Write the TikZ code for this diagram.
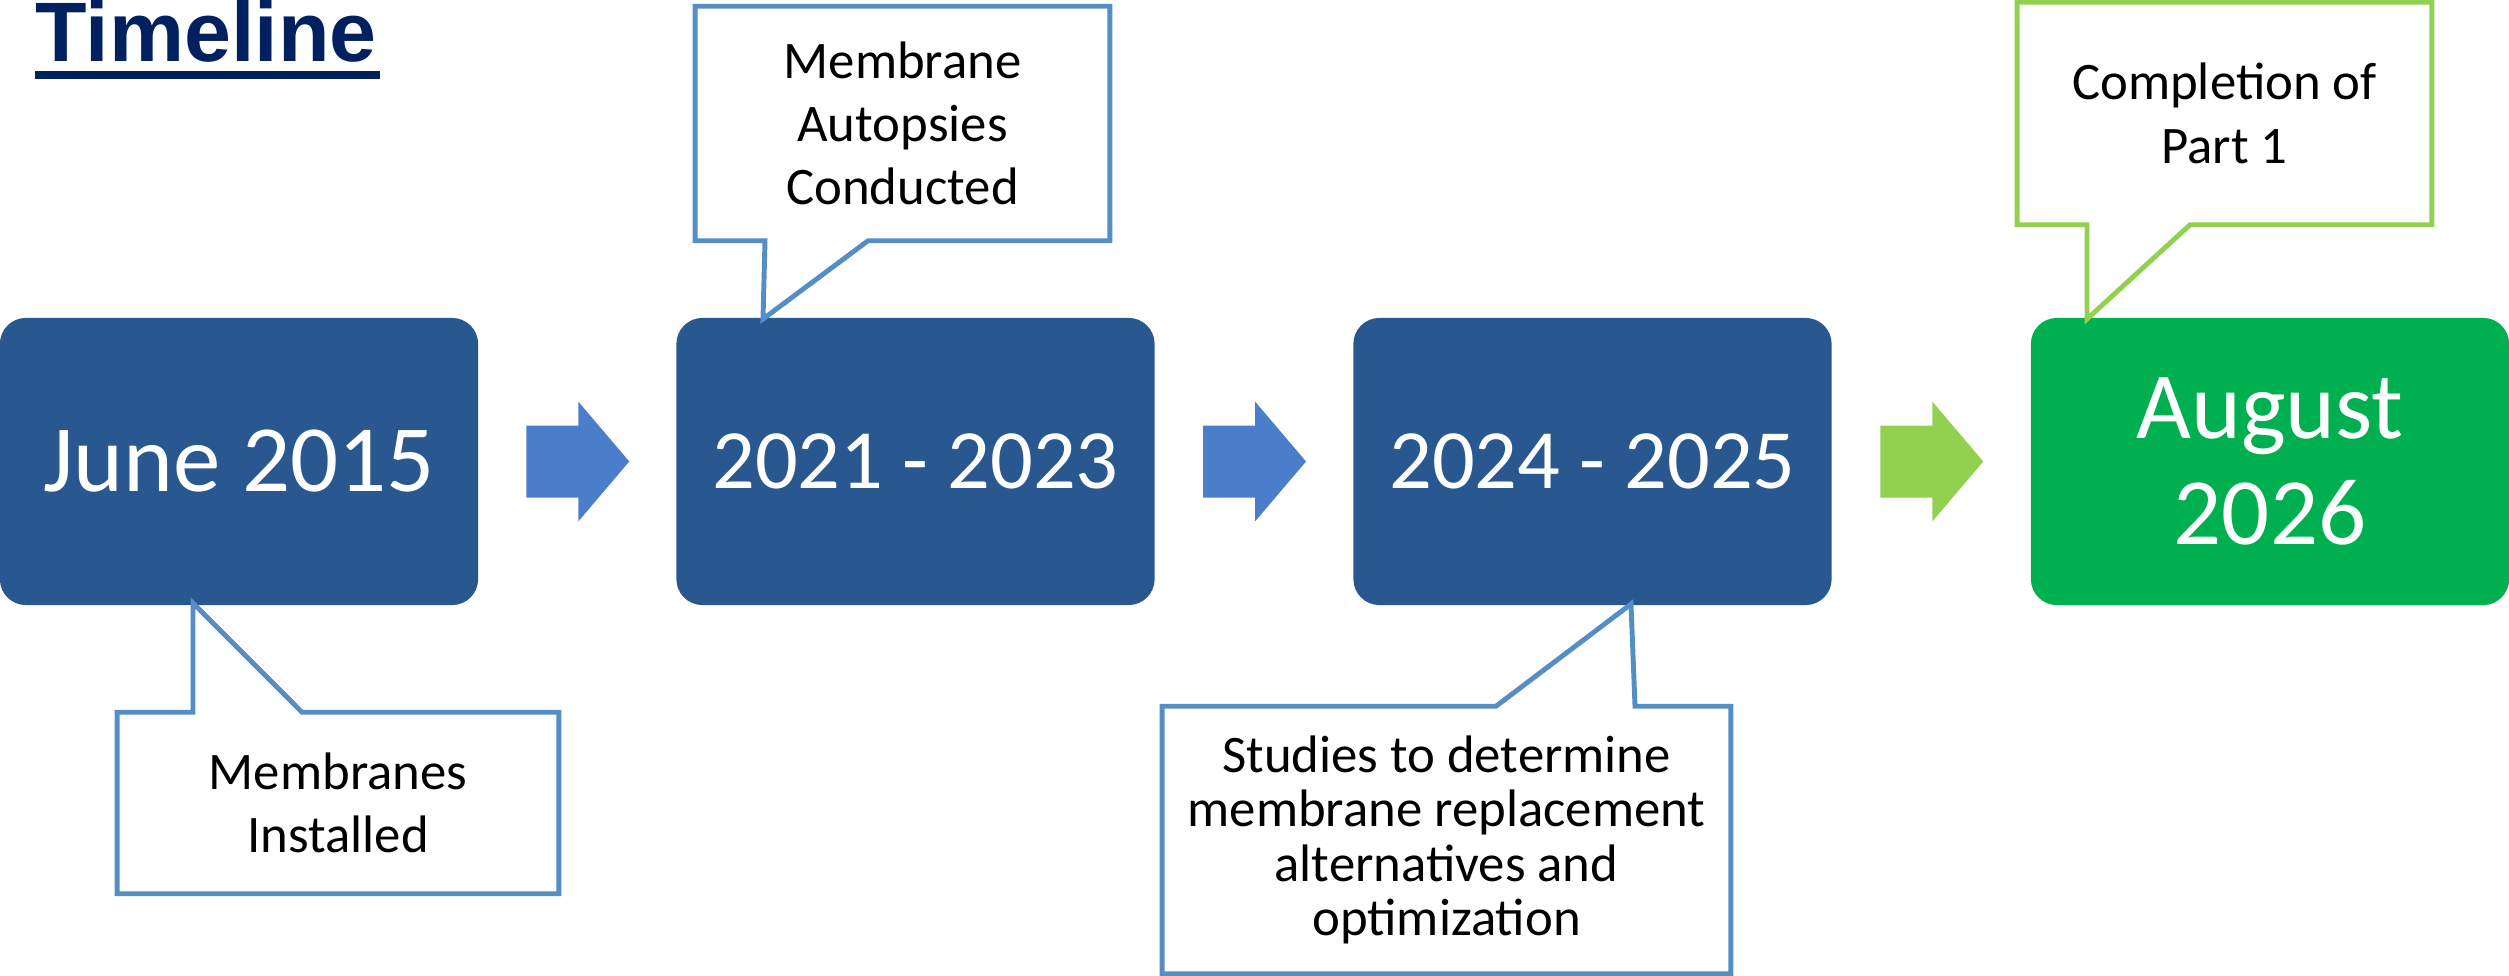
\documentclass[tikz,border=0pt]{standalone}
\usepackage{fontspec}
\setmainfont{Carlito}
\newfontfamily\titlefont{Liberation Sans}
\usetikzlibrary{calc}

\definecolor{boxblue}{RGB}{41,87,144}
\definecolor{boxgreen}{RGB}{0,176,80}
\definecolor{arrowblue}{RGB}{74,126,203}
\definecolor{arrowgreen}{RGB}{146,208,80}
\definecolor{noteblue}{RGB}{85,142,196}
\definecolor{titleblue}{RGB}{0,32,96}

\begin{document}
\begin{tikzpicture}[x=0.01cm, y=-0.01cm,
    stage/.style={fill=boxblue, text=white, rounded corners=0.26cm, minimum width=4.78cm, minimum height=2.87cm, align=center, inner sep=0pt},
    note/.style={draw=noteblue, line width=1.4pt, line join=miter},
    notetext/.style={align=center, inner sep=0pt, font=\fontsize{15}{18}\selectfont}]
                \useasboundingbox (0,0) rectangle (2509,976);

                % Title
                \node[anchor=base west, inner sep=0pt, text=titleblue, font=\titlefont\bfseries\fontsize{24}{28}\selectfont] at (35,62) (title) {Timeline};
                \fill[titleblue] ($(title.base west)+(0,9)$) rectangle ($(title.base east)+(3,17)$);

                % Boxes
                \node[stage, font=\fontsize{27}{32}\selectfont] at (239,461.5) (b1) {June 2015};
                \node[stage, font=\fontsize{24}{29}\selectfont] at (915.5,461.5) (b2) {2021 - 2023};
                \node[stage, font=\fontsize{24}{29}\selectfont] at (1592.5,461.5) (b3) {2024 - 2025};
                \node[stage, fill=boxgreen, font=\fontsize{27}{30}\selectfont] at (2270,461.5) (b4) {August\\2026};

                % Arrows
                \foreach \from/\to/\col in {b1/b2/arrowblue, b2/b3/arrowblue, b3/b4/arrowgreen}
                    \fill[\col] ($(\from.east)!0.5!(\to.west)$) ++(-51,-36) -- ++(52,0) -- ++(0,-24)
                        -- ++(51,60) -- ++(-51,60) -- ++(0,-24) -- ++(-52,0) -- cycle;

                % Callouts
                \coordinate (p1) at (193,603);
                \coordinate (p2) at (763,319);
                \coordinate (p3) at (1631,604);
                \coordinate (p4) at (2087,319);

                \node[notetext, minimum width=4.40cm, minimum height=1.80cm] at (338,803) (c1) {Membranes\\Installed};
                \node[notetext, minimum width=4.13cm, minimum height=2.33cm] at (902.5,123.5) (c2) {Membrane\\Autopsies\\Conducted};
                \node[notetext, minimum width=5.67cm, minimum height=2.66cm, font=\fontsize{15}{15.5}\selectfont] at (1446.5,840) (c3) {Studies to determine\\membrane replacement\\alternatives and\\optimization};
                \node[notetext, minimum width=4.13cm, minimum height=2.21cm] at (2224.5,113.5) (c4) {Completion of\\Part 1};

                \draw[note] (c1.north west) -- (c1.north west -| p1) -- (p1)
                    -- ($(c1.north west -| p1)+(109,0)$) -- (c1.north east) -- (c1.south east) -- (c1.south west) -- cycle;
                \draw[note] (c2.south west) -- ($(c2.south west -| p2)+(2,0)$) -- (p2)
                    -- ($(c2.south west -| p2)+(105,0)$) -- (c2.south east) -- (c2.north east) -- (c2.north west) -- cycle;
                \draw[note] (c3.north west) -- ($(c3.north west -| p3)+(-135,0)$) -- (p3)
                    -- ($(c3.north west -| p3)+(4,0)$) -- (c3.north east) -- (c3.south east) -- (c3.south west) -- cycle;
                \draw[note, draw=arrowgreen] (c4.south west) -- (c4.south west -| p4) -- (p4)
                    -- ($(c4.south west -| p4)+(103,0)$) -- (c4.south east) -- (c4.north east) -- (c4.north west) -- cycle;
            \end{tikzpicture}
\end{document}
